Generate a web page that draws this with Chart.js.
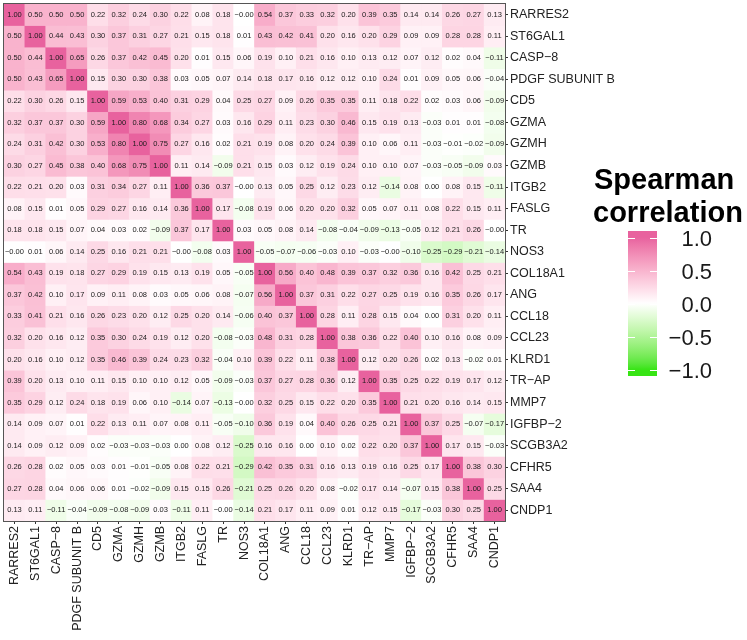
<!DOCTYPE html>
<html>
<head>
<meta charset="utf-8">
<script src="https://cdn.jsdelivr.net/npm/chart.js@4.4.1/dist/chart.umd.min.js"></script>
<style>
  html, body { margin: 0; padding: 0; background: #fff; }
  #wrap { width: 747px; height: 640px; }
</style>
</head>
<body>
<div id="wrap"><canvas id="heat" width="747" height="640"></canvas></div>
<script>
(function() {
    'use strict';

    // --- Data ---
    const genes = ['RARRES2', 'ST6GAL1', 'CASP\u22128', 'PDGF SUBUNIT B', 'CD5', 'GZMA', 'GZMH', 'GZMB',
        'ITGB2', 'FASLG', 'TR', 'NOS3', 'COL18A1', 'ANG', 'CCL18', 'CCL23', 'KLRD1', 'TR\u2212AP',
        'MMP7', 'IGFBP\u22122', 'SCGB3A2', 'CFHR5', 'SAA4', 'CNDP1'];

    // Spearman correlation matrix, rows/cols in the order of genes
    const corr = [
        [1.00, 0.50, 0.50, 0.50, 0.22, 0.32, 0.24, 0.30, 0.22, 0.08, 0.18, -0, 0.54, 0.37, 0.33, 0.32, 0.20, 0.39, 0.35, 0.14, 0.14, 0.26, 0.27, 0.13],
        [0.50, 1.00, 0.44, 0.43, 0.30, 0.37, 0.31, 0.27, 0.21, 0.15, 0.18, 0.01, 0.43, 0.42, 0.41, 0.20, 0.16, 0.20, 0.29, 0.09, 0.09, 0.28, 0.28, 0.11],
        [0.50, 0.44, 1.00, 0.65, 0.26, 0.37, 0.42, 0.45, 0.20, 0.01, 0.15, 0.06, 0.19, 0.10, 0.21, 0.16, 0.10, 0.13, 0.12, 0.07, 0.12, 0.02, 0.04, -0.11],
        [0.50, 0.43, 0.65, 1.00, 0.15, 0.30, 0.30, 0.38, 0.03, 0.05, 0.07, 0.14, 0.18, 0.17, 0.16, 0.12, 0.12, 0.10, 0.24, 0.01, 0.09, 0.05, 0.06, -0.04],
        [0.22, 0.30, 0.26, 0.15, 1.00, 0.59, 0.53, 0.40, 0.31, 0.29, 0.04, 0.25, 0.27, 0.09, 0.26, 0.35, 0.35, 0.11, 0.18, 0.22, 0.02, 0.03, 0.06, -0.09],
        [0.32, 0.37, 0.37, 0.30, 0.59, 1.00, 0.80, 0.68, 0.34, 0.27, 0.03, 0.16, 0.29, 0.11, 0.23, 0.30, 0.46, 0.15, 0.19, 0.13, -0.03, 0.01, 0.01, -0.08],
        [0.24, 0.31, 0.42, 0.30, 0.53, 0.80, 1.00, 0.75, 0.27, 0.16, 0.02, 0.21, 0.19, 0.08, 0.20, 0.24, 0.39, 0.10, 0.06, 0.11, -0.03, -0.01, -0.02, -0.09],
        [0.30, 0.27, 0.45, 0.38, 0.40, 0.68, 0.75, 1.00, 0.11, 0.14, -0.09, 0.21, 0.15, 0.03, 0.12, 0.19, 0.24, 0.10, 0.10, 0.07, -0.03, -0.05, -0.09, 0.03],
        [0.22, 0.21, 0.20, 0.03, 0.31, 0.34, 0.27, 0.11, 1.00, 0.36, 0.37, -0, 0.13, 0.05, 0.25, 0.12, 0.23, 0.12, -0.14, 0.08, 0.00, 0.08, 0.15, -0.11],
        [0.08, 0.15, 0.01, 0.05, 0.29, 0.27, 0.16, 0.14, 0.36, 1.00, 0.17, -0.08, 0.19, 0.06, 0.20, 0.20, 0.32, 0.05, 0.07, 0.11, 0.08, 0.22, 0.15, 0.11],
        [0.18, 0.18, 0.15, 0.07, 0.04, 0.03, 0.02, -0.09, 0.37, 0.17, 1.00, 0.03, 0.05, 0.08, 0.14, -0.08, -0.04, -0.09, -0.13, -0.05, 0.12, 0.21, 0.26, -0],
        [-0, 0.01, 0.06, 0.14, 0.25, 0.16, 0.21, 0.21, -0, -0.08, 0.03, 1.00, -0.05, -0.07, -0.06, -0.03, 0.10, -0.03, -0, -0.10, -0.25, -0.29, -0.21, -0.14],
        [0.54, 0.43, 0.19, 0.18, 0.27, 0.29, 0.19, 0.15, 0.13, 0.19, 0.05, -0.05, 1.00, 0.56, 0.40, 0.48, 0.39, 0.37, 0.32, 0.36, 0.16, 0.42, 0.25, 0.21],
        [0.37, 0.42, 0.10, 0.17, 0.09, 0.11, 0.08, 0.03, 0.05, 0.06, 0.08, -0.07, 0.56, 1.00, 0.37, 0.31, 0.22, 0.27, 0.25, 0.19, 0.16, 0.35, 0.26, 0.17],
        [0.33, 0.41, 0.21, 0.16, 0.26, 0.23, 0.20, 0.12, 0.25, 0.20, 0.14, -0.06, 0.40, 0.37, 1.00, 0.28, 0.11, 0.28, 0.15, 0.04, 0.00, 0.31, 0.20, 0.11],
        [0.32, 0.20, 0.16, 0.12, 0.35, 0.30, 0.24, 0.19, 0.12, 0.20, -0.08, -0.03, 0.48, 0.31, 0.28, 1.00, 0.38, 0.36, 0.22, 0.40, 0.10, 0.16, 0.08, 0.09],
        [0.20, 0.16, 0.10, 0.12, 0.35, 0.46, 0.39, 0.24, 0.23, 0.32, -0.04, 0.10, 0.39, 0.22, 0.11, 0.38, 1.00, 0.12, 0.20, 0.26, 0.02, 0.13, -0.02, 0.01],
        [0.39, 0.20, 0.13, 0.10, 0.11, 0.15, 0.10, 0.10, 0.12, 0.05, -0.09, -0.03, 0.37, 0.27, 0.28, 0.36, 0.12, 1.00, 0.35, 0.25, 0.22, 0.19, 0.17, 0.12],
        [0.35, 0.29, 0.12, 0.24, 0.18, 0.19, 0.06, 0.10, -0.14, 0.07, -0.13, -0, 0.32, 0.25, 0.15, 0.22, 0.20, 0.35, 1.00, 0.21, 0.20, 0.16, 0.14, 0.15],
        [0.14, 0.09, 0.07, 0.01, 0.22, 0.13, 0.11, 0.07, 0.08, 0.11, -0.05, -0.10, 0.36, 0.19, 0.04, 0.40, 0.26, 0.25, 0.21, 1.00, 0.37, 0.25, -0.07, -0.17],
        [0.14, 0.09, 0.12, 0.09, 0.02, -0.03, -0.03, -0.03, 0.00, 0.08, 0.12, -0.25, 0.16, 0.16, 0.00, 0.10, 0.02, 0.22, 0.20, 0.37, 1.00, 0.17, 0.15, -0.03],
        [0.26, 0.28, 0.02, 0.05, 0.03, 0.01, -0.01, -0.05, 0.08, 0.22, 0.21, -0.29, 0.42, 0.35, 0.31, 0.16, 0.13, 0.19, 0.16, 0.25, 0.17, 1.00, 0.38, 0.30],
        [0.27, 0.28, 0.04, 0.06, 0.06, 0.01, -0.02, -0.09, 0.15, 0.15, 0.26, -0.21, 0.25, 0.26, 0.20, 0.08, -0.02, 0.17, 0.14, -0.07, 0.15, 0.38, 1.00, 0.25],
        [0.13, 0.11, -0.11, -0.04, -0.09, -0.08, -0.09, 0.03, -0.11, 0.11, -0, -0.14, 0.21, 0.17, 0.11, 0.09, 0.01, 0.12, 0.15, -0.17, -0.03, 0.30, 0.25, 1.00]
    ];

    const legendTicks = [1.0, 0.5, 0.0, -0.5, -1.0];
    const legendTitle = ['Spearman', 'correlation'];

    // --- Colour scale (white midpoint, interpolated in CIELAB like ggplot) ---
    const lowColor = [55, 228, 20];
    const midColor = [255, 255, 255];
    const highColor = [232, 98, 158];

    const toLin = (c) => { c /= 255; return c <= 0.04045 ? c / 12.92 : Math.pow((c + 0.055) / 1.055, 2.4); };
    const toSrgb = (c) => {
        const v = c <= 0.0031308 ? 12.92 * c : 1.055 * Math.pow(c, 1 / 2.4) - 0.055;
        return Math.round(Math.min(1, Math.max(0, v)) * 255);
    };
    const rgbToLab = (rgb) => {
        const R = toLin(rgb[0]), G = toLin(rgb[1]), B = toLin(rgb[2]);
        const x = (R * 0.4124 + G * 0.3576 + B * 0.1805) / 0.95047;
        const y = R * 0.2126 + G * 0.7152 + B * 0.0722;
        const z = (R * 0.0193 + G * 0.1192 + B * 0.9505) / 1.08883;
        const f = (t) => t > 0.008856 ? Math.cbrt(t) : 7.787 * t + 16 / 116;
        const fx = f(x), fy = f(y), fz = f(z);
        return [116 * fy - 16, 500 * (fx - fy), 200 * (fy - fz)];
    };
    const labToRgb = (lab) => {
        const fy = (lab[0] + 16) / 116, fx = fy + lab[1] / 500, fz = fy - lab[2] / 200;
        const inv = (t) => t * t * t > 0.008856 ? t * t * t : (t - 16 / 116) / 7.787;
        const x = inv(fx) * 0.95047, y = inv(fy), z = inv(fz) * 1.08883;
        return [
            toSrgb(x * 3.2406 - y * 1.5372 - z * 0.4986),
            toSrgb(-x * 0.9689 + y * 1.8758 + z * 0.0415),
            toSrgb(x * 0.0557 - y * 0.2040 + z * 1.0570)
        ];
    };
    const labLow = rgbToLab(lowColor), labMid = rgbToLab(midColor), labHigh = rgbToLab(highColor);

    const fillColor = (v) => {
        const t = Math.min(1, Math.abs(v));
        const end = v >= 0 ? labHigh : labLow;
        const c = labToRgb(labMid.map((m, k) => m + (end[k] - m) * t));
        return 'rgb(' + c.join(',') + ')';
    };

    const fmt = (v) => (v < 0 || Object.is(v, -0) ? '\u2212' : '') + Math.abs(v).toFixed(2);

    const baseFont = '"Liberation Sans", Arial, Helvetica, sans-serif';

    // --- Plugins ---
    // Writes the coefficient in every cell.
    const cellText = {
        id: 'cellText',
        afterDatasetsDraw: (chart) => {
            const ctx = chart.ctx;
            const xs = chart.scales.x, ys = chart.scales.y;
            ctx.save();
            ctx.font = '7.5px ' + baseFont;
            ctx.fillStyle = '#1a1a1a';
            ctx.textAlign = 'center';
            ctx.textBaseline = 'middle';
            corr.forEach((row, i) => {
                row.forEach((v, j) => {
                    ctx.fillText(fmt(v), xs.getPixelForValue(j), ys.getPixelForValue(i + 0.5));
                });
            });
            ctx.restore();
        }
    };

    // Panel border plus the colour bar legend on the right.
    const frameAndLegend = {
        id: 'frameAndLegend',
        afterDraw: (chart) => {
            const ctx = chart.ctx;
            const area = chart.chartArea;
            ctx.save();
            ctx.strokeStyle = '#555';
            ctx.lineWidth = 1;
            ctx.strokeRect(area.left - 0.5, area.top - 0.5, area.right - area.left + 1, area.bottom - area.top + 1);

            // title
            ctx.fillStyle = '#000';
            ctx.font = 'bold 29px ' + baseFont;
            ctx.textAlign = 'left';
            ctx.textBaseline = 'alphabetic';
            ctx.fillText(legendTitle[0], 594, 189);
            ctx.fillText(legendTitle[1], 593, 222);

            // colour bar
            const bar = { left: 628, right: 657, top: 231, bottom: 376 };
            const mid = 303.5, span = 66;
            const grad = ctx.createLinearGradient(0, bar.top, 0, bar.bottom);
            for (let py = bar.top; py <= bar.bottom; py += 2) {
                const v = Math.max(-1, Math.min(1, (mid - py) / span));
                grad.addColorStop((py - bar.top) / (bar.bottom - bar.top), fillColor(v));
            }
            ctx.fillStyle = grad;
            ctx.fillRect(bar.left, bar.top, bar.right - bar.left, bar.bottom - bar.top);

            ctx.strokeStyle = '#fff';
            ctx.lineWidth = 1;
            ctx.font = '22px ' + baseFont;
            ctx.textAlign = 'right';
            ctx.textBaseline = 'middle';
            legendTicks.forEach((t) => {
                const py = Math.round(mid - t * span) + 0.5;
                ctx.beginPath();
                ctx.moveTo(bar.left, py);
                ctx.lineTo(bar.left + 7, py);
                ctx.moveTo(bar.right - 7, py);
                ctx.lineTo(bar.right, py);
                ctx.stroke();
                ctx.fillStyle = '#1a1a1a';
                ctx.fillText((t < 0 ? '\u2212' : '') + Math.abs(t).toFixed(1), 712, py + 1);
            });
            ctx.restore();
        }
    };

    // --- Chart ---
    const datasets = genes.map((g, i) => ({
        label: g,
        data: corr[i].map(() => [i, i + 1]),
        backgroundColor: corr[i].map(fillColor),
        borderWidth: 0,
        barPercentage: 1,
        categoryPercentage: 1
    }));

    const axisFont = { family: baseFont, size: 12.5 };

    new Chart(document.getElementById('heat').getContext('2d'), {
        type: 'bar',
        data: { labels: genes, datasets: datasets },
        options: {
            responsive: false,
            animation: false,
            layout: { padding: { left: 4, top: 4, right: 122, bottom: 0 } },
            plugins: {
                legend: { display: false },
                tooltip: { enabled: false }
            },
            scales: {
                x: {
                    type: 'category',
                    stacked: true,
                    offset: true,
                    afterFit: (s) => { s.height = 119; s.paddingLeft = 0; s.paddingRight = 0; },
                    ticks: { minRotation: 90, maxRotation: 90, autoSkip: false, padding: 2, color: '#222', font: axisFont },
                    grid: { offset: false, drawOnChartArea: false, tickLength: 3, color: '#333' },
                    border: { display: false }
                },
                y: {
                    type: 'linear',
                    position: 'right',
                    reverse: true,
                    min: 0,
                    max: genes.length,
                    stacked: false,
                    afterBuildTicks: (s) => { s.ticks = genes.map((_, i) => ({ value: i + 0.5 })); },
                    afterFit: (s) => { s.width = 120; s.paddingTop = 0; s.paddingBottom = 0; },
                    ticks: { autoSkip: false, padding: 2, color: '#222', font: axisFont, callback: (v, i) => genes[i] },
                    grid: { drawOnChartArea: false, tickLength: 3, color: '#333' },
                    border: { display: false }
                }
            }
        },
        plugins: [cellText, frameAndLegend]
    });
})();
</script>
</body>
</html>
